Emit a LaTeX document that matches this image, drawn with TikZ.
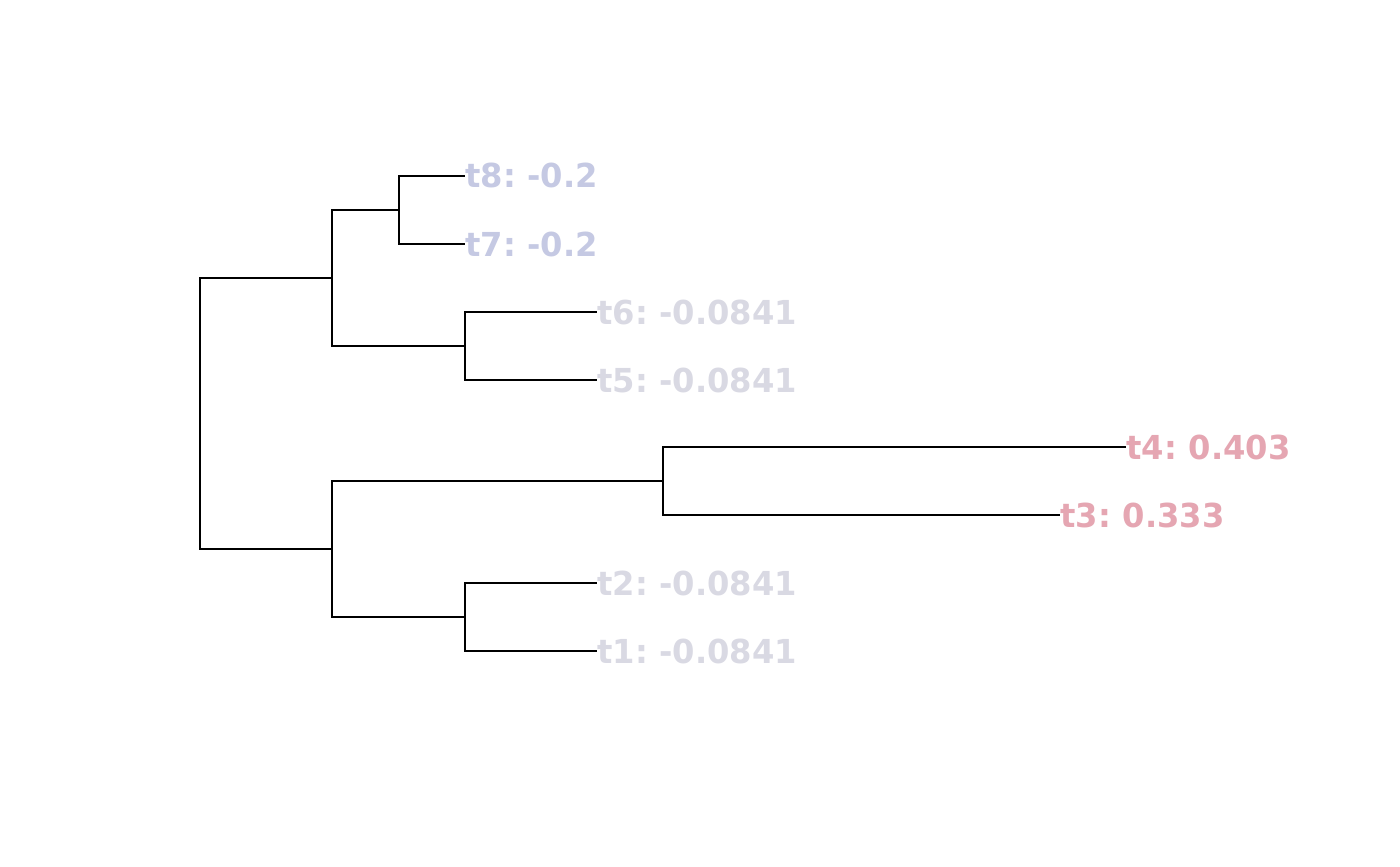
\documentclass[tikz,border=0pt]{standalone}
\usepackage{fontspec}
\setmainfont{DejaVu Sans}[WordSpace=0.7]
\definecolor{tipblue}{HTML}{C5C9E3}
\definecolor{tipgrey}{HTML}{D9D9E3}
\definecolor{tippink}{HTML}{E5A6B2}
\newcommand{\tiptext}[1]{\scalebox{0.975}[1]{#1}}
\begin{document}
\begin{tikzpicture}[x=0.5pt,y=-0.5pt,
  edge/.style={draw=black,line width=1pt},
  tip/.style={anchor=west,inner sep=0pt,font=\fontsize{16.5pt}{19pt}\selectfont\bfseries,text height=12pt,text depth=0pt}]
\useasboundingbox[fill=white] (0,0) rectangle (1400,866);
% internal nodes
\coordinate (root) at (200,413.5);
\coordinate (U) at (332,278);
\coordinate (L) at (332,549);
\coordinate (A) at (399,210);
\coordinate (B) at (465,346);
\coordinate (C) at (663,481);
\coordinate (D) at (465,617);
% leaves
\coordinate (l8) at (465,176);
\coordinate (l7) at (465,244);
\coordinate (l6) at (597,312);
\coordinate (l5) at (597,380);
\coordinate (l4) at (1126,447);
\coordinate (l3) at (1060,515);
\coordinate (l2) at (597,583);
\coordinate (l1) at (597,651);
% edges
\draw[edge] (root) |- (U);
\draw[edge] (root) |- (L);
\draw[edge] (U) |- (A);
\draw[edge] (U) |- (B);
\draw[edge] (A) |- (l8);
\draw[edge] (A) |- (l7);
\draw[edge] (B) |- (l6);
\draw[edge] (B) |- (l5);
\draw[edge] (L) |- (C);
\draw[edge] (L) |- (D);
\draw[edge] (C) |- (l4);
\draw[edge] (C) |- (l3);
\draw[edge] (D) |- (l2);
\draw[edge] (D) |- (l1);
% labels
\node[tip,text=tipblue] (t8) at (l8) {\tiptext{t8: -0.2}};
\node[tip,text=tipblue] (t7) at (l7) {\tiptext{t7: -0.2}};
\node[tip,text=tipgrey] (t6) at (l6) {\tiptext{t6: -0.0841}};
\node[tip,text=tipgrey] (t5) at (l5) {\tiptext{t5: -0.0841}};
\node[tip,text=tippink] (t4) at (l4) {\tiptext{t4: 0.403}};
\node[tip,text=tippink] (t3) at (l3) {\tiptext{t3: 0.333}};
\node[tip,text=tipgrey] (t2) at (l2) {\tiptext{t2: -0.0841}};
\node[tip,text=tipgrey] (t1) at (l1) {\tiptext{t1: -0.0841}};
\end{tikzpicture}
\end{document}
